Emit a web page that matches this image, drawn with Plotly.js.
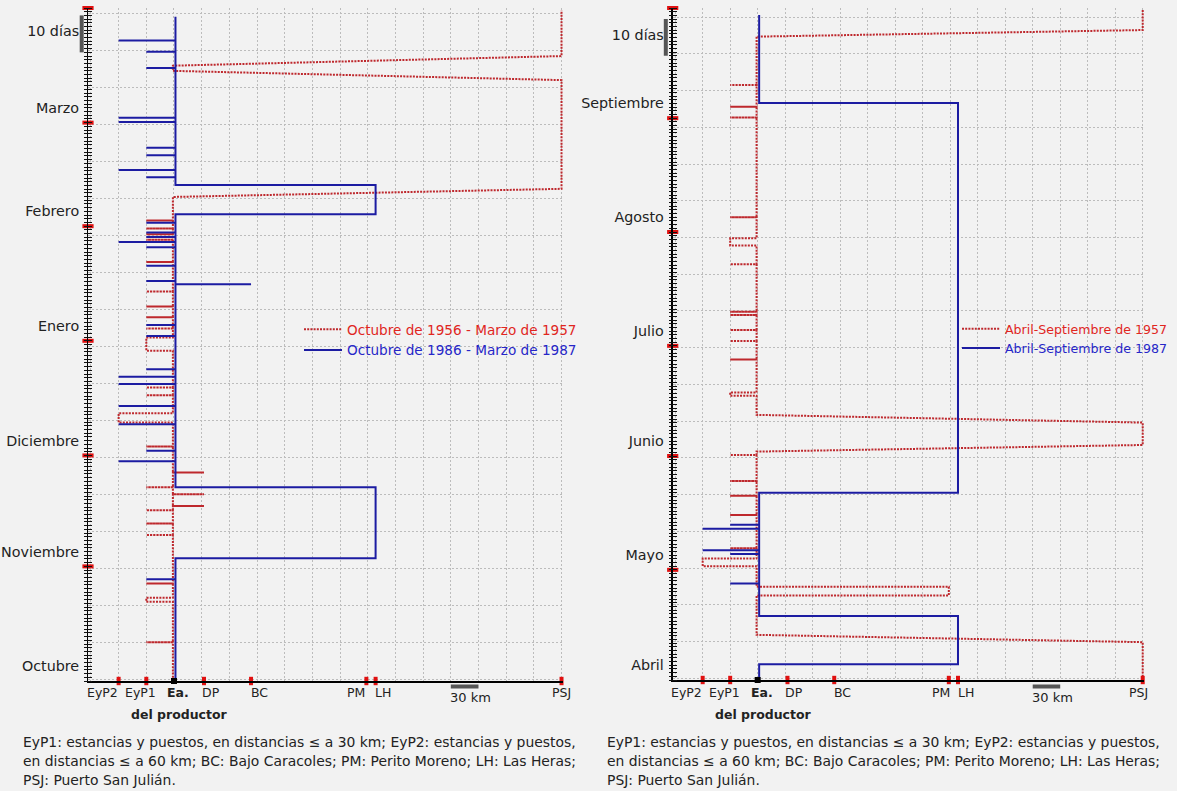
<!DOCTYPE html>
<html><head><meta charset="utf-8">
<script src="https://cdn.plot.ly/plotly-3.0.1.min.js"></script>
<style>html,body{margin:0;padding:0;background:#f2f2f2}</style>
</head><body><div id="chart" style="width:1177px;height:791px"></div>
<script>
// ---------- DATA ----------
// places (km from the producer's estancia, Ea.)
const siteNames = ['EyP2','EyP1','Ea.','DP','BC','PM','LH','PSJ'];
const siteKm    = [-60, -30, 0, 32.5, 83.5, 208.5, 218.5, 420];

// months of each panel (days counted from the 1st day of the first month)
const monthsA   = ['Octubre','Noviembre','Diciembre','Enero','Febrero','Marzo'];
const monthLenA = [31,30,31,31,28,31];
const monthsB   = ['Abril','Mayo','Junio','Julio','Agosto','Septiembre'];
const monthLenB = [30,31,30,31,31,30];
const scaleDays = [170,180];            // "10 días" scale bar
const scaleKm   = [300,330];            // "30 km" scale bar

// Octubre 1956 - Marzo 1957 (red)
const r5657_shortDest = ['EyP1','EyP1','EyP1','EyP1','EyP1','EyP1','EyP1','EyP1','EyP1','EyP1','EyP1','EyP1','EyP1','EyP1','EyP1','EyP1','EyP1','EyP1','DP','DP','DP'];
const r5657_shortDay  = [124.5,122.4,120.8,119.3,113.3,105.3,101.3,98.4,95.3,79.4,77.3,63.4,52.4,46.2,42.6,39.5,26.4,10.5,56.4,50.5,47.3];
const r5657_stayDest  = ['EyP1','EyP2','EyP1','PSJ','PSJ'];
const r5657_stayOut   = [21.4,69.9,89.3,130.9,166.4];
const r5657_stayArr   = [21.4,69.9,89.3,133.1,169.0];
const r5657_stayLeave = [22.5,72.4,92.9,162.5,null];
const r5657_stayBack  = [22.5,72.4,92.9,165.0,null];
const r5657_end = 181.4;

// Octubre 1986 - Marzo 1987 (blue)
const b8687_shortDest = ['EyP2','EyP2','EyP2','EyP2','EyP2','EyP2','EyP2','EyP2','EyP2','EyP2',
  'EyP1','EyP1','EyP1','EyP1','EyP1','EyP1','EyP1','EyP1','EyP1','EyP1','EyP1','EyP1','EyP1','EyP1','EyP1','EyP1','BC'];
const b8687_shortDay  = [173.2,152.3,151.2,138.2,118.7,82.3,80.3,74.4,69.4,59.4,
  170.2,165.8,144.2,142.2,136.2,123.9,121.3,120.1,117.3,112.3,108.2,96.3,93.3,84.3,62.3,27.5,107.3];
const b8687_stayDest  = ['LH','LH'];
const b8687_stayOut   = [33.2,126.2];
const b8687_stayArr   = [33.2,126.2];
const b8687_stayLeave = [52.4,134.1];
const b8687_stayBack  = [52.4,134.1];
const b8687_end = 179.6;

// Abril - Septiembre 1957 (red)
const r57_shortDest = ['EyP1','EyP1','EyP1','EyP1','EyP1','EyP1','EyP1','EyP1','EyP1','EyP1','EyP1','EyP1','EyP1','EyP1','EyP1'];
const r57_shortDay  = [35.9,44.9,50.2,54.2,61.3,87.3,92.3,95.3,99.4,100.3,113.2,126.0,153.2,156.1,162.0];
const r57_stayDest  = ['PSJ','PM','EyP2','PSJ','EyP1','EyP1','PSJ'];
const r57_stayOut   = [null,23.0,31.0,62.2,77.4,118.3,175.2];
const r57_stayArr   = [null,23.0,31.0,64.0,77.4,118.3,177.0];
const r57_stayLeave = [10.3,25.4,33.1,70.1,78.3,120.3,null];
const r57_stayBack  = [12.3,25.4,33.1,72.2,78.3,120.3,null];
const r57_end = 182.6;

// Abril - Septiembre 1987 (blue)
const b87_shortDest = ['EyP1','EyP1','EyP2','EyP2','EyP1'];
const b87_shortDay  = [26.3,34.3,35.3,41.2,42.3];
const b87_stayDest  = ['LH','LH'];
const b87_stayOut   = [4.3,51.0];
const b87_stayArr   = [4.3,51.0];
const b87_stayLeave = [17.4,157.1];
const b87_stayBack  = [17.4,157.1];
const b87_end = 181.1;

// ---------- DRAWING ----------
const FONT = 'DejaVu Sans';
const RED = 'rgb(190,40,45)', BLUE = '#1c1ca2';
const W = 1177, H = 791;
const xRangeA = [-93.2, 421.6], xRangeB = [-92.7, 421.4];
const yRangeA = [0, monthLenA.reduce((a,b)=>a+b,0)];
const yRangeB = [0, monthLenB.reduce((a,b)=>a+b,0)];

function kmOf(code){ return siteKm[siteNames.indexOf(code)]; }
function buildPath(sd, sday, dst, out, arr, lv, bk, end, off){
  const X = c => c === 'Ea.' ? off : kmOf(c);
  const ev = [];
  sd.forEach((d,i)=>ev.push({dest:d,out:sday[i],arr:sday[i],lv:sday[i],bk:sday[i]}));
  dst.forEach((d,i)=>ev.push({dest:d,out:out[i],arr:arr[i],lv:lv[i],bk:bk[i]}));
  ev.sort((a,b)=>(a.out===null?-1:a.out)-(b.out===null?-1:b.out));
  const x=[], y=[]; let home=true;
  for(const e of ev){
    if(e.out===null){ x.push(X(e.dest)); y.push(0); }
    else{
      if(x.length===0){ x.push(off); y.push(0); }
      x.push(off); y.push(e.out); x.push(X(e.dest)); y.push(e.arr);
    }
    if(e.lv===null){ x.push(X(e.dest)); y.push(end); home=false; break; }
    x.push(X(e.dest)); y.push(e.lv); x.push(off); y.push(e.bk);
  }
  if(home){ x.push(off); y.push(end); }
  return {x,y};
}
function monthStarts(lens){ const s=[0]; lens.forEach(l=>s.push(s[s.length-1]+l)); return s; }

const redLine = {color:RED, width:2, dash:'2px,1.2px'};
const blueLine = {color:BLUE, width:2};

const pA1 = buildPath(r5657_shortDest,r5657_shortDay,r5657_stayDest,r5657_stayOut,r5657_stayArr,r5657_stayLeave,r5657_stayBack,r5657_end,-1.2);
const pA2 = buildPath(b8687_shortDest,b8687_shortDay,b8687_stayDest,b8687_stayOut,b8687_stayArr,b8687_stayLeave,b8687_stayBack,b8687_end,1.6);
const pB1 = buildPath(r57_shortDest,r57_shortDay,r57_stayDest,r57_stayOut,r57_stayArr,r57_stayLeave,r57_stayBack,r57_end,-1.2);
const pB2 = buildPath(b87_shortDest,b87_shortDay,b87_stayDest,b87_stayOut,b87_stayArr,b87_stayLeave,b87_stayBack,b87_end,1.6);

const traces = [];
traces.push({type:'scatter',mode:'lines',x:pA1.x,y:pA1.y,xaxis:'x',yaxis:'y',line:redLine,
  name:'<span style="color:#e0261e">Octubre de 1956 - Marzo de 1957</span>',legend:'legend',hoverinfo:'skip'});
traces.push({type:'scatter',mode:'lines',x:pA2.x,y:pA2.y,xaxis:'x',yaxis:'y',line:blueLine,
  name:'<span style="color:#2626c8">Octubre de 1986 - Marzo de 1987</span>',legend:'legend',hoverinfo:'skip'});
traces.push({type:'scatter',mode:'lines',x:pB1.x,y:pB1.y,xaxis:'x2',yaxis:'y4',line:redLine,
  name:'<span style="color:#e0261e">Abril-Septiembre de 1957</span>',legend:'legend2',hoverinfo:'skip'});
traces.push({type:'scatter',mode:'lines',x:pB2.x,y:pB2.y,xaxis:'x2',yaxis:'y4',line:blueLine,
  name:'<span style="color:#2626c8">Abril-Septiembre de 1987</span>',legend:'legend2',hoverinfo:'skip'});

// dummy traces for the overlay axes
[['x','y2'],['x','y3'],['x2','y5'],['x2','y6']].forEach(([xa,ya])=>traces.push(
  {type:'scatter',mode:'lines',x:[null],y:[null],xaxis:xa,yaxis:ya,showlegend:false,hoverinfo:'skip'}));

// markers on the axes
function axisMarkers(xa, ya, xr, lens){
  const ms = monthStarts(lens).slice(1);
  const others = siteNames.filter(n=>n!=='Ea.');
  traces.push({type:'scatter',mode:'markers',xaxis:xa,yaxis:ya,x:ms.map(()=>xr[0]),y:ms,cliponaxis:false,
    marker:{symbol:'line-ew',size:8,line:{width:4,color:'#e01010'}},showlegend:false,hoverinfo:'skip'});
  traces.push({type:'scatter',mode:'markers',xaxis:xa,yaxis:ya,x:others.map(kmOf),y:others.map(()=>0),cliponaxis:false,
    marker:{symbol:'line-ns',size:6,line:{width:4,color:'#e01010'}},showlegend:false,hoverinfo:'skip'});
  traces.push({type:'scatter',mode:'markers',xaxis:xa,yaxis:ya,x:[kmOf('Ea.')],y:[0],cliponaxis:false,
    marker:{symbol:'square',size:6,color:'#000'},showlegend:false,hoverinfo:'skip'});
}
axisMarkers('x','y',xRangeA,monthLenA);
axisMarkers('x2','y4',xRangeB,monthLenB);

const grid = {showgrid:true, gridcolor:'#bcbcbc', gridwidth:1, griddash:'2px,2px'};
function xAxis(dom, rng, anchor){
  return Object.assign({domain:dom, range:rng, anchor:anchor, tickmode:'linear', tick0:0, dtick:30,
    showticklabels:false, ticks:'', zeroline:false, showline:true, linecolor:'#000', linewidth:1.5, fixedrange:true}, grid);
}
function yMain(dom, rng, anchor){
  return Object.assign({domain:dom, range:rng, anchor:anchor, tickmode:'linear', tick0:0.5, dtick:10,
    showticklabels:false, ticks:'', zeroline:false, showline:true, linecolor:'#000', linewidth:1.5, fixedrange:true}, grid);
}
function yTicks(over, rng, pos){
  return {overlaying:over, anchor:'free', position:pos, side:'left', range:rng, tickmode:'linear', tick0:0, dtick:1,
    ticks:'outside', ticklen:8, tickwidth:1, tickcolor:'#111', showticklabels:false, showgrid:false, showline:false, zeroline:false, fixedrange:true};
}
function yLabels(over, rng, anchor, months, lens){
  const ms = monthStarts(lens);
  const tv = months.map((m,i)=>ms[i]+4).concat([(scaleDays[0]+scaleDays[1])/2+0.7]);
  const tt = months.concat(['10 días']);
  return {overlaying:over, anchor:anchor, side:'left', range:rng, tickmode:'array', tickvals:tv, ticktext:tt,
    ticks:'outside', ticklen:5, tickcolor:'rgba(0,0,0,0)', showgrid:false, showline:false, zeroline:false,
    tickfont:{family:FONT, size:14.3, color:'#222'}, fixedrange:true};
}

const domXA = [88/W, 563/W], domXB = [672.7/W, 1144/W];
const domYA = [(H-681)/H, (H-8)/H], domYB = [(H-680)/H, (H-8)/H];

const annotations = [];
function siteLabels(xa, shifts){
  siteNames.forEach((n,i)=>{
    annotations.push({xref:xa, yref:'paper', x:siteKm[i], y:(H-692)/H, xanchor:'center', yanchor:'middle',
      xshift:shifts[n], showarrow:false, text: n==='Ea.' ? '<b>Ea.</b>' : n, font:{family:FONT,size:12.5,color:'#222'}});
  });
  annotations.push({xref:xa, yref:'paper', x:kmOf('Ea.'), y:(H-714)/H, xanchor:'center', yanchor:'middle', xshift:6,
    showarrow:false, text:'<b>del productor</b>', font:{family:FONT,size:12.5,color:'#222'}});
  annotations.push({xref:xa, yref:'paper', x:scaleKm[0], y:(H-697)/H, xanchor:'left', yanchor:'middle', xshift:-3,
    showarrow:false, text:'30 km', font:{family:FONT,size:13,color:'#222'}});
}
siteLabels('x', {EyP2:-16,EyP1:-6,'Ea.':4,DP:7,BC:8,PM:-10,LH:7,PSJ:0});
siteLabels('x2',{EyP2:-16,EyP1:-6,'Ea.':4,DP:7,BC:8,PM:-8,LH:8,PSJ:-4});

const caption = ['EyP1: estancias y puestos, en distancias ≤ a 30 km; EyP2: estancias y puestos,',
  'en distancias ≤ a 60 km; BC: Bajo Caracoles; PM: Perito Moreno; LH: Las Heras;',
  'PSJ: Puerto San Julián.'];
[21, 605].forEach(x0=>caption.forEach((t,i)=>annotations.push({xref:'paper',yref:'paper',x:x0/W,y:(H-742-19*i)/H,
  xanchor:'left',yanchor:'middle',showarrow:false,text:t,font:{family:FONT,size:13.9,color:'#222'}})));

const shapes = [
  {type:'line', xref:'x', yref:'paper', x0:scaleKm[0], x1:scaleKm[1], y0:(H-686.5)/H, y1:(H-686.5)/H, line:{color:'#555',width:4}},
  {type:'line', xref:'x2', yref:'paper', x0:scaleKm[0], x1:scaleKm[1], y0:(H-686.5)/H, y1:(H-686.5)/H, line:{color:'#555',width:4}},
  {type:'line', xref:'paper', yref:'y', x0:81.7/W, x1:81.7/W, y0:scaleDays[0], y1:scaleDays[1], line:{color:'#555',width:4}},
  {type:'line', xref:'paper', yref:'y4', x0:665.8/W, x1:665.8/W, y0:scaleDays[0], y1:scaleDays[1], line:{color:'#555',width:4}}
];

const legendBase = {xanchor:'left', yanchor:'top', bgcolor:'rgba(0,0,0,0)', borderwidth:0,
  itemwidth:38, tracegroupgap:0};

const layout = {
  width:W, height:H, margin:{l:0,r:0,t:0,b:0,pad:0,autoexpand:false},
  paper_bgcolor:'#f2f2f2', plot_bgcolor:'#f2f2f2',
  font:{family:FONT, color:'#222'},
  showlegend:true,
  legend: Object.assign({x:299/W, y:(H-314)/H, font:{family:FONT, size:13.6}}, legendBase),
  legend2: Object.assign({x:957/W, y:(H-314)/H, font:{family:FONT, size:12.6}}, legendBase),
  xaxis: xAxis(domXA, xRangeA, 'y'),
  yaxis: yMain(domYA, yRangeA, 'x'),
  yaxis2: yTicks('y', yRangeA, 92/W),
  yaxis3: yLabels('y', yRangeA, 'x', monthsA, monthLenA),
  xaxis2: xAxis(domXB, xRangeB, 'y4'),
  yaxis4: yMain(domYB, yRangeB, 'x2'),
  yaxis5: yTicks('y4', yRangeB, 676.7/W),
  yaxis6: yLabels('y4', yRangeB, 'x2', monthsB, monthLenB),
  annotations: annotations,
  shapes: shapes,
  hovermode:false
};

Plotly.newPlot('chart', traces, layout, {displayModeBar:false, staticPlot:true});
</script></body></html>
